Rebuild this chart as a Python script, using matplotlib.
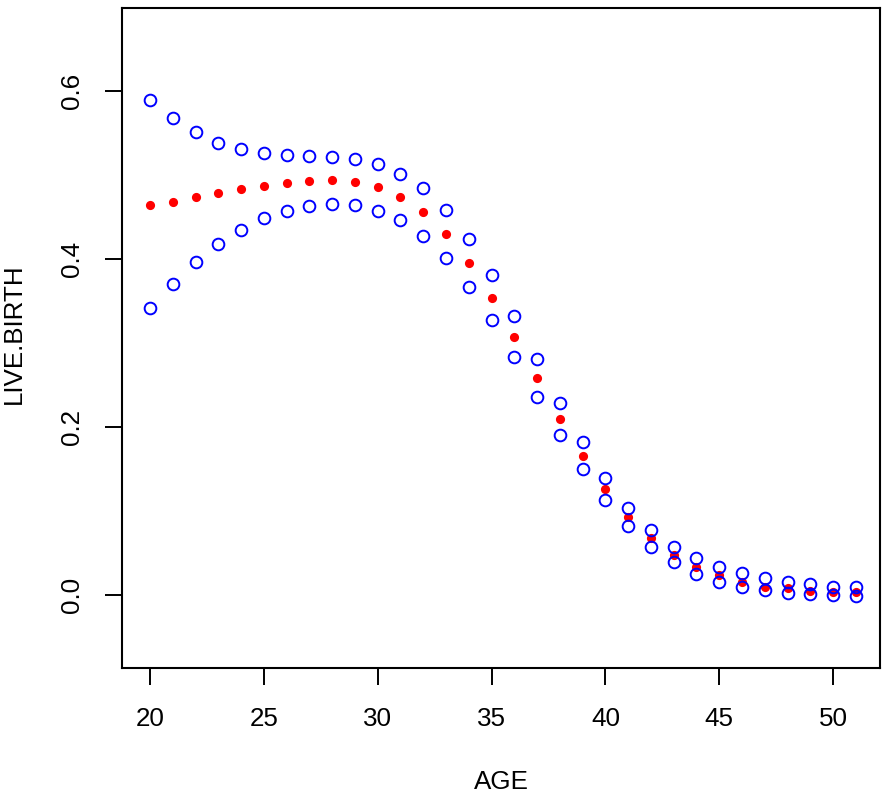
import matplotlib
matplotlib.use("Agg")
import matplotlib.pyplot as plt
import numpy as np

plt.rcParams["font.family"] = ["Liberation Sans", "DejaVu Sans"]

age = np.arange(20, 52)

live_birth_mean = [
    0.464, 0.468, 0.474, 0.479, 0.483, 0.487, 0.490, 0.493, 0.494, 0.492,
    0.486, 0.474, 0.456, 0.430, 0.395, 0.354, 0.307, 0.258, 0.210, 0.165,
    0.126, 0.093, 0.068, 0.048, 0.033, 0.024, 0.015, 0.010, 0.008, 0.005,
    0.004, 0.003,
]
live_birth_upper = [
    0.589, 0.568, 0.551, 0.538, 0.531, 0.526, 0.524, 0.523, 0.521, 0.519,
    0.513, 0.501, 0.485, 0.458, 0.424, 0.381, 0.332, 0.281, 0.229, 0.182,
    0.139, 0.104, 0.077, 0.057, 0.044, 0.033, 0.026, 0.020, 0.015, 0.013,
    0.009, 0.009,
]
live_birth_lower = [
    0.342, 0.370, 0.396, 0.418, 0.435, 0.449, 0.457, 0.463, 0.465, 0.464,
    0.457, 0.446, 0.427, 0.401, 0.367, 0.327, 0.283, 0.236, 0.190, 0.150,
    0.113, 0.082, 0.057, 0.039, 0.025, 0.015, 0.010, 0.006, 0.002, 0.001,
    0.000, -0.001,
]

W, H = 886, 791
fig = plt.figure(figsize=(W / 100, H / 100), dpi=100)
ax = fig.add_axes([122 / W, 123 / H, 758 / W, 660 / H])

# red means first, the blue bounds sit on top of them
ax.plot(age, live_birth_mean, "o", color="red", markersize=6.6,
        markeredgewidth=0, linestyle="none")
ax.plot(age, live_birth_upper, "o", markerfacecolor="none", markeredgecolor="blue",
        markersize=8.4, markeredgewidth=1.4, linestyle="none")
ax.plot(age, live_birth_lower, "o", markerfacecolor="none", markeredgecolor="blue",
        markersize=8.4, markeredgewidth=1.4, linestyle="none")

ax.set_xlim(18.77, 52.06)
ax.set_ylim(-0.0869, 0.6988)
ax.set_xticks([20, 25, 30, 35, 40, 45, 50])
ax.set_yticks([0.0, 0.2, 0.4, 0.6])
ax.set_yticklabels(["0.0", "0.2", "0.4", "0.6"], rotation=90, va="center")

for spine in ax.spines.values():
    spine.set_linewidth(1.5)
ax.tick_params(axis="both", length=12.2, width=1.4, labelsize=18.7, pad=16)
ax.tick_params(axis="y", pad=15)

# axis titles placed like R's mtext, close to the figure edge
fig.text(501 / W, 2 / H, "AGE", fontsize=18.7, ha="center", va="baseline")
fig.text(21 / W, 1 - 334 / H, "LIVE.BIRTH", fontsize=18.7, rotation=90,
         rotation_mode="anchor", ha="center", va="baseline")

fig.savefig("out.png", dpi=100)
